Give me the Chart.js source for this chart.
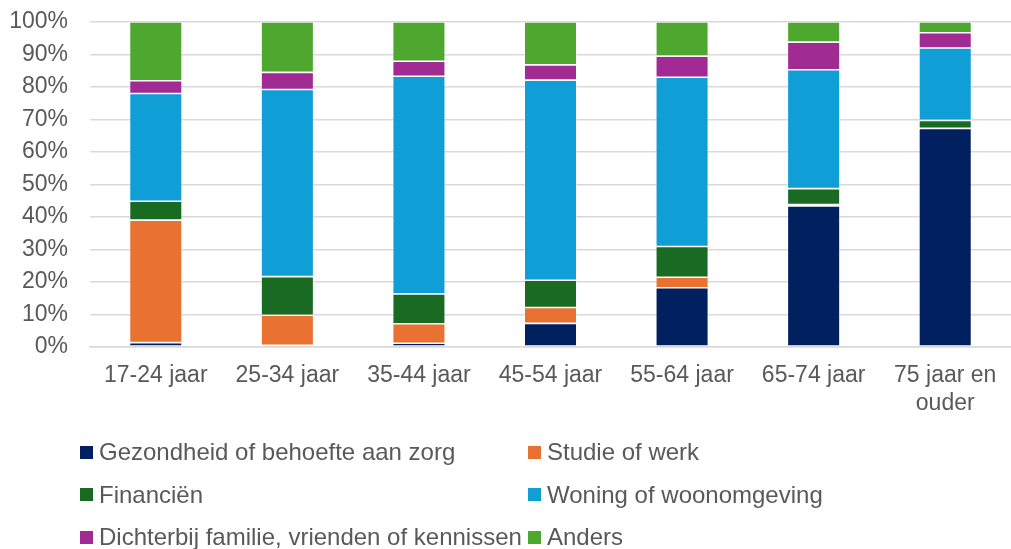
<!DOCTYPE html>
<html>
<head>
<meta charset="utf-8">
<script src="https://cdn.jsdelivr.net/npm/chart.js@4.4.1/dist/chart.umd.min.js"></script>
<style>
  html, body { margin: 0; padding: 0; background: #fff; }
  #wrap { position: relative; width: 1011px; height: 549px; overflow: hidden; }
  #legend { position: absolute; left: 80px; top: 431px; width: 931px;
    display: grid; grid-template-columns: 448px 483px; grid-auto-rows: 42.6px;
    font-family: "Liberation Sans", Arial, sans-serif; font-size: 24px; color: #595959; }
  .item { display: flex; align-items: center; white-space: nowrap; height: 42.6px; }
  .box { width: 13px; height: 13px; margin-right: 6px; flex: none; }
</style>
</head>
<body>
<div id="wrap">
  <canvas id="verhuisChart" width="1011" height="549"></canvas>
  <div id="legend"></div>
</div>
<script>
const ageGroups = ['17-24 jaar', '25-34 jaar', '35-44 jaar', '45-54 jaar', '55-64 jaar', '65-74 jaar', ['75 jaar en', 'ouder']];
const reasons = ['Gezondheid of behoefte aan zorg', 'Studie of werk', 'Financiën', 'Woning of woonomgeving', 'Dichterbij familie, vrienden of kennissen', 'Anders'];
const reasonColors = ['#00205F', '#E97132', '#196B24', '#0F9ED5', '#A02B93', '#4EA72E'];

// aandeel per leeftijdsgroep (%)
const gezondheid = [1.3, 0.5, 1.1, 7.2, 18.2, 43.4, 67.2];
const studie = [37.7, 9.2, 6.0, 4.9, 3.2, 0.4, 0.1];
const financien = [5.8, 11.9, 9.2, 8.4, 9.5, 4.9, 2.4];
const woning = [33.2, 57.6, 67.0, 61.6, 52.1, 36.6, 22.3];
const dichterbij = [3.9, 5.3, 4.6, 4.7, 6.5, 8.5, 4.7];
const anders = [18.1, 15.5, 12.1, 13.2, 10.5, 6.2, 3.3];

const yTicks = [0, 10, 20, 30, 40, 50, 60, 70, 80, 90, 100];

const series = [gezondheid, studie, financien, woning, dichterbij, anders];
const textColor = '#595959';
const fontFamily = '"Liberation Sans", Arial, sans-serif';

const verhuisChart = new Chart(document.getElementById('verhuisChart'), {
  type: 'bar',
  data: {
    labels: ageGroups,
    datasets: series.map((values, i) => ({
      label: reasons[i],
      data: values,
      backgroundColor: reasonColors[i],
      borderColor: 'rgba(255,255,255,0.45)',
      borderWidth: 0.8,
      borderSkipped: false,
      barPercentage: 0.4,
      categoryPercentage: 1
    }))
  },
  options: {
    responsive: false,
    animation: false,
    layout: { padding: { top: 22, right: -9, bottom: 125, left: 0 } },
    scales: {
      x: {
        stacked: true,
        grid: { display: false },
        border: { color: '#d9d9d9', width: 1.5 },
        ticks: {
          color: textColor,
          padding: 7,
          maxRotation: 0,
          autoSkip: false,
          font: { family: fontFamily, size: 23, lineHeight: 1.2 }
        }
      },
      y: {
        stacked: true,
        min: 0,
        max: 100,
        afterBuildTicks: (scale) => { scale.ticks = yTicks.map(v => ({ value: v })); },
        afterFit: (scale) => { scale.width = 90; scale.paddingTop = 0; scale.paddingBottom = 0; },
        border: { display: false },
        grid: { color: '#d9d9d9', lineWidth: 1.5, drawTicks: false },
        ticks: {
          color: textColor,
          padding: 22,
          autoSkip: false,
          stepSize: 10,
          font: { family: fontFamily, size: 23 },
          callback: (v) => v + '%'
        }
      }
    },
    plugins: {
      legend: { display: false },
      tooltip: { enabled: false }
    }
  }
});

// legenda in twee kolommen, zoals in het origineel
const legendEl = document.getElementById('legend');
verhuisChart.data.datasets.forEach(ds => {
  const item = document.createElement('div');
  item.className = 'item';
  const box = document.createElement('span');
  box.className = 'box';
  box.style.background = ds.backgroundColor;
  const txt = document.createElement('span');
  txt.textContent = ds.label;
  item.appendChild(box);
  item.appendChild(txt);
  legendEl.appendChild(item);
});
</script>
</body>
</html>
